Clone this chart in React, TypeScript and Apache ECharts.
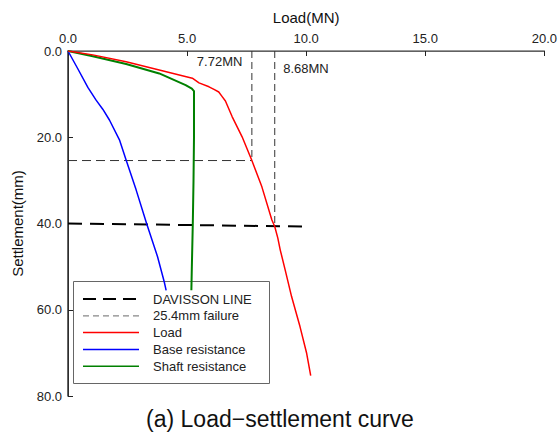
import { useEffect, useRef } from "react";
import * as echarts from "echarts";

// Load (MN) vs settlement (mm) readings
const loadCurve: [number, number][] = [
  [0, 0], [1.04, 0.9], [2.44, 2.5], [3.83, 4.4], [5.22, 6.3], [5.5, 7.4],
  [5.92, 8.3], [6.13, 8.9], [6.33, 9.5], [6.45, 10.4], [6.61, 11.6],
  [6.89, 15.2], [7.31, 19.9], [7.72, 25.4], [8.14, 31.5], [8.56, 39.2],
  [8.68, 40.7], [8.81, 43.4], [8.91, 46.1], [9.12, 50.8], [9.39, 57.0],
  [9.74, 63.9], [10.02, 70.1], [10.19, 75.3],
];
const baseCurve: [number, number][] = [
  [0, 0], [0.4, 4.0], [0.84, 8.5], [1.18, 11.4], [1.46, 13.5], [1.74, 16.0],
  [2.16, 20.6], [2.44, 25.3], [2.86, 32.2], [3.3, 40.0], [3.76, 47.7],
  [4.04, 53.5], [4.12, 55.5],
];
const shaftCurve: [number, number][] = [
  [0, 0], [1.04, 1.2], [2.44, 3.0], [3.83, 5.2], [4.94, 7.9], [5.2, 8.7],
  [5.29, 9.3], [5.29, 20], [5.27, 30], [5.24, 40], [5.2, 50], [5.18, 55.5],
];
const davissonLine: [number, number][] = [[0, 40.0], [9.95, 40.7]];

const failureSettlement = 25.4;
const failureLoad = 7.72;
const davissonLoad = 8.68;
const davissonSettlement = 40.7;

const loadTicks = [0, 5, 10, 15, 20];
const settlementTicks = [0, 20, 40, 60, 80];

const legendItems = [
  { name: "DAVISSON LINE", color: "#000000", width: 2, dash: [13, 7] },
  { name: "25.4mm failure", color: "#888888", width: 1.2, dash: [6, 4] },
  { name: "Load", color: "#ff0000", width: 1.5, dash: null },
  { name: "Base resistance", color: "#0000ff", width: 1.5, dash: null },
  { name: "Shaft resistance", color: "#008000", width: 1.5, dash: null },
];

const FONT = "'Liberation Sans', Arial, sans-serif";

export default function App() {
  const ref = useRef<HTMLDivElement>(null);

  useEffect(() => {
    if (!ref.current) return;
    const chart = echarts.init(ref.current, null, { renderer: "svg" });

    const legendGraphic: any[] = [
      {
        type: "rect",
        shape: { x: 73.5, y: 281.5, width: 196, height: 102 },
        style: { fill: "#ffffff", stroke: "#666666", lineWidth: 1 },
      },
    ];
    legendItems.forEach((it, i) => {
      const y = 299 + i * 16.8;
      legendGraphic.push({
        type: "line",
        shape: { x1: 83, y1: y, x2: 139, y2: y },
        style: { stroke: it.color, lineWidth: it.width, lineDash: it.dash || undefined },
      });
      legendGraphic.push({
        type: "text",
        x: 153,
        y,
        style: {
          text: it.name,
          font: `13px ${FONT}`,
          fill: "#222222",
          textVerticalAlign: "middle",
          verticalAlign: "middle",
        },
      });
    });

    const thinDash = { color: "#333333", width: 1, type: [7, 4] as any };

    chart.setOption({
      animation: false,
      backgroundColor: "#ffffff",
      textStyle: { fontFamily: FONT },
      grid: { left: 68, top: 51, right: 13, bottom: 36, containLabel: false },
      xAxis: [
        {
          type: "value",
          position: "top",
          min: loadTicks[0],
          max: loadTicks[loadTicks.length - 1],
          interval: 5,
          name: "Load(MN)",
          nameLocation: "middle",
          nameGap: 26,
          nameTextStyle: { fontSize: 15, color: "#111111", fontFamily: FONT },
          axisLine: { lineStyle: { color: "#222222", width: 1 } },
          axisTick: { inside: true, length: 5, lineStyle: { color: "#222222" } },
          axisLabel: {
            fontSize: 13,
            color: "#222222",
            margin: 6,
            formatter: (v: number) => v.toFixed(1),
          },
          splitLine: { show: false },
        },
        {
          type: "value",
          position: "bottom",
          min: 0,
          max: 20,
          axisLine: { show: true, lineStyle: { color: "#777777", width: 1.5 } },
          axisTick: { show: false },
          axisLabel: { show: false },
          splitLine: { show: false },
        },
      ],
      yAxis: [
        {
          type: "value",
          inverse: true,
          min: settlementTicks[0],
          max: settlementTicks[settlementTicks.length - 1],
          interval: 20,
          name: "Settlement(mm)",
          nameLocation: "middle",
          nameGap: 43,
          nameRotate: 90,
          nameTextStyle: { fontSize: 15, color: "#111111", fontFamily: FONT },
          axisLine: { show: true, lineStyle: { color: "#222222", width: 1 } },
          axisTick: { show: true, inside: true, length: 5, lineStyle: { color: "#222222" } },
          axisLabel: {
            fontSize: 13,
            color: "#222222",
            margin: 6,
            formatter: (v: number) => v.toFixed(1),
          },
          splitLine: { show: false },
        },
        {
          type: "value",
          position: "right",
          inverse: true,
          min: 0,
          max: 80,
          axisLine: { show: true, lineStyle: { color: "#333333", width: 1.5 } },
          axisTick: { show: false },
          axisLabel: { show: false },
          splitLine: { show: false },
        },
      ],
      series: [
        {
          name: "25.4mm failure",
          type: "line",
          symbol: "none",
          data: [[0, failureSettlement], [failureLoad, failureSettlement]],
          lineStyle: { color: "#333333", width: 1, type: [9, 5] as any },
          z: 1,
        },
        {
          name: "failure load",
          type: "line",
          symbol: "none",
          data: [[failureLoad, 0], [failureLoad, failureSettlement]],
          lineStyle: thinDash,
          z: 1,
          markPoint: {
            symbol: "circle",
            symbolSize: 1,
            itemStyle: { color: "rgba(0,0,0,0)" },
            data: [
              {
                coord: [failureLoad, 2.55],
                label: {
                  show: true,
                  position: "left",
                  distance: 9,
                  formatter: `${failureLoad.toFixed(2)}MN`,
                  fontSize: 13,
                  color: "#222222",
                  fontFamily: FONT,
                },
              },
            ],
          },
        },
        {
          name: "davisson load",
          type: "line",
          symbol: "none",
          data: [[davissonLoad, 0], [davissonLoad, davissonSettlement]],
          lineStyle: thinDash,
          z: 1,
          markPoint: {
            symbol: "circle",
            symbolSize: 1,
            itemStyle: { color: "rgba(0,0,0,0)" },
            data: [
              {
                coord: [davissonLoad, 3.95],
                label: {
                  show: true,
                  position: "right",
                  distance: 8,
                  formatter: `${davissonLoad.toFixed(2)}MN`,
                  fontSize: 13,
                  color: "#222222",
                  fontFamily: FONT,
                },
              },
            ],
          },
        },
        {
          name: "DAVISSON LINE",
          type: "line",
          symbol: "none",
          data: davissonLine,
          lineStyle: { color: "#000000", width: 2, type: [14, 8] as any },
          z: 1,
        },
        {
          name: "Base resistance",
          type: "line",
          symbol: "none",
          data: baseCurve,
          lineStyle: { color: "#0000ff", width: 1.5 },
          z: 2,
        },
        {
          name: "Shaft resistance",
          type: "line",
          symbol: "none",
          data: shaftCurve,
          lineStyle: { color: "#008000", width: 2 },
          z: 2,
        },
        {
          name: "Load",
          type: "line",
          symbol: "none",
          data: loadCurve,
          lineStyle: { color: "#ff0000", width: 1.5 },
          z: 3,
        },
      ],
      graphic: [
        { type: "group", z: 100, children: legendGraphic },
        {
          type: "text",
          z: 100,
          x: 280,
          y: 419,
          style: {
            text: "(a) Load\u2212settlement curve",
            font: `23px ${FONT}`,
            fill: "#111111",
            textAlign: "center",
            textVerticalAlign: "middle",
            align: "center",
            verticalAlign: "middle",
          },
        },
      ],
    });

    return () => chart.dispose();
  }, []);

  return (
    <div
      ref={ref}
      style={{ position: "fixed", left: 0, top: 0, width: 560, height: 432 }}
    />
  );
}
